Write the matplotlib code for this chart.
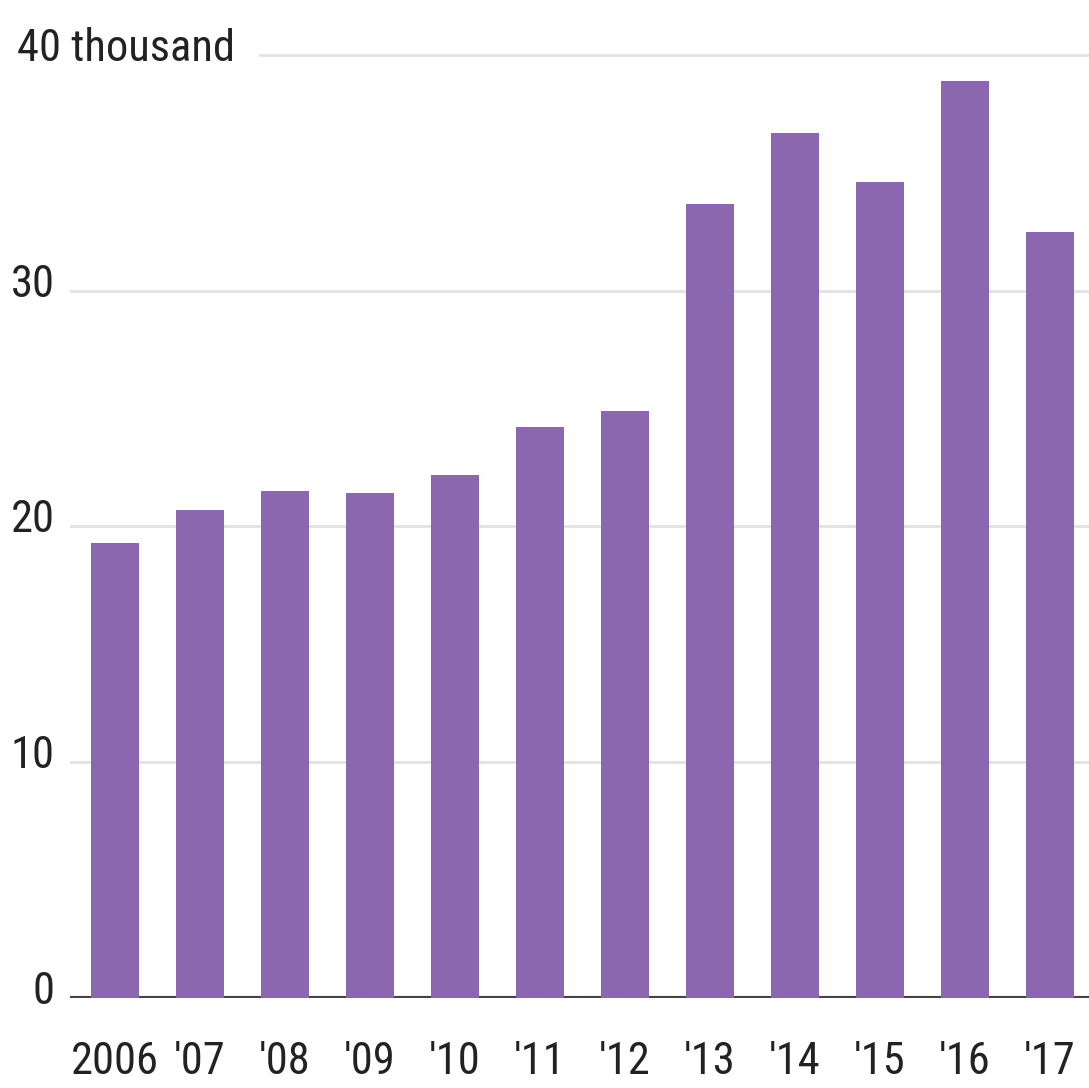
import matplotlib
matplotlib.use("Agg")
import matplotlib.pyplot as plt
import matplotlib.transforms as mtransforms
from matplotlib import font_manager

years = ["2006", "'07", "'08", "'09", "'10", "'11", "'12", "'13", "'14", "'15", "'16", "'17"]
values = [19.3, 20.7, 21.5, 21.4, 22.2, 24.2, 24.9, 33.7, 36.7, 34.6, 38.9, 32.5]
yticks = [0, 10, 20, 30, 40]
ytick_labels = ["0", "10", "20", "30", "40 thousand"]

# choose a narrow font if one is installed
avail = {}
for f in font_manager.fontManager.ttflist:
    avail.setdefault(f.name, set()).add(str(f.stretch))
fam, stretch, fsize = 'DejaVu Sans', 'normal', 24
if 'Liberation Sans Narrow' in avail:
    fam, stretch, fsize = 'Liberation Sans Narrow', 'condensed', 33
elif 'Roboto Condensed' in avail:
    fam, stretch, fsize = 'Roboto Condensed', 'condensed', 32
elif 'DejaVu Sans' in avail and 'condensed' in avail['DejaVu Sans']:
    fam, stretch, fsize = 'DejaVu Sans', 'condensed', 26
elif 'Liberation Sans' in avail:
    fam, stretch, fsize = 'Liberation Sans', 'normal', 26

plt.rcParams['font.family'] = [fam, 'DejaVu Sans']
plt.rcParams['font.stretch'] = stretch

fig = plt.figure(figsize=(10.89, 10.88), dpi=100)
ax = fig.add_axes([70/1089, 90/1088, 1 - 70/1089, (1088 - 43.2 - 90)/1088])

x = list(range(len(years)))
ax.bar(x, values, width=0.565, color='#8a67ae', zorder=3)
ax.axhline(0, color='#444444', lw=3, zorder=2)

ax.set_xlim(-0.529, 11.459)
ax.set_ylim(0, 40.5)

ax.set_xticks(x)
ax.set_xticklabels(years, fontsize=fsize, color='#222222')
ax.set_yticks(yticks)
ax.set_yticklabels(ytick_labels, fontsize=fsize, color='#222222')
ax.tick_params(axis='y', length=0, pad=11)
ax.tick_params(axis='x', length=0, pad=31)

ax.yaxis.grid(True, color='#e2e2e2', lw=2, zorder=0)
ax.set_axisbelow(True)
for s in ax.spines.values():
    s.set_visible(False)

down = mtransforms.ScaledTranslation(0, -6/100, fig.dpi_scale_trans)
for lab in ax.get_yticklabels():
    lab.set_verticalalignment('baseline')
    lab.set_transform(lab.get_transform() + down)
top = ax.get_yticklabels()[-1]
top.set_horizontalalignment('left')
top.set_transform(top.get_transform() + mtransforms.ScaledTranslation(-38/100, 0, fig.dpi_scale_trans))
top.set_bbox(dict(fc='white', ec='none', boxstyle='square,pad=0.55'))

fig.savefig("out.png", dpi=100, facecolor='white')
